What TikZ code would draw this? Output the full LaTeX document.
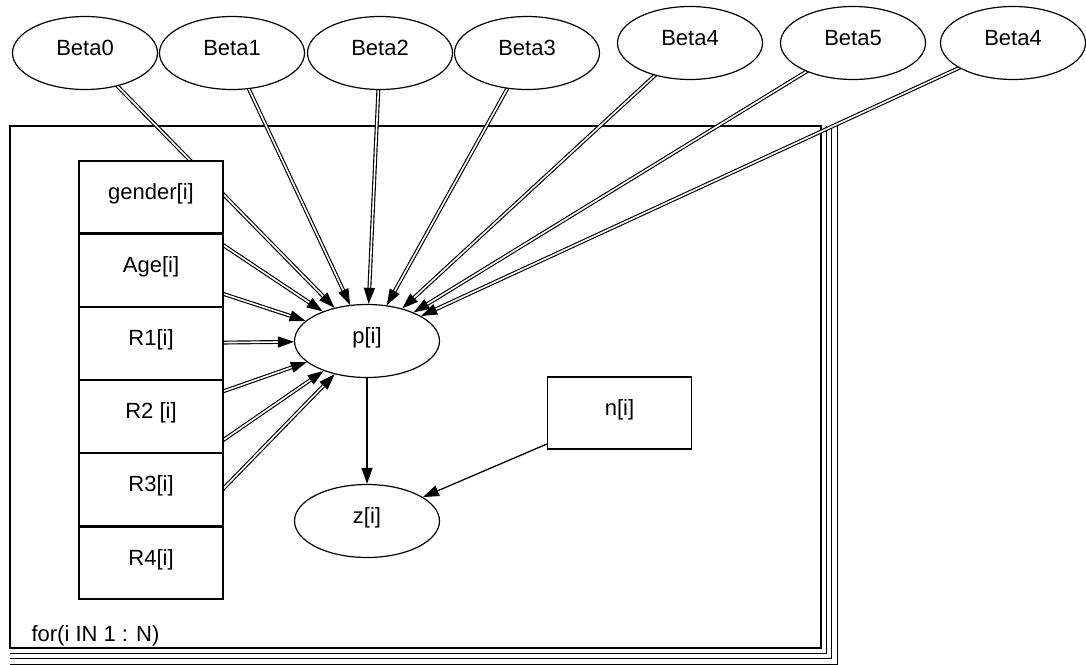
\documentclass[tikz,border=0pt]{standalone}
\usepackage{fontspec}
\setmainfont{Liberation Sans}
\usetikzlibrary{positioning,arrows.meta,shapes.geometric,backgrounds}

\begin{document}
\begin{tikzpicture}[x=1pt, y=-1pt,
  font=\fontsize{22}{26}\selectfont, >={Triangle[length=16pt,width=11pt]},
  var/.style={draw, line width=1.2pt, ellipse, fill=white, minimum width=145pt,
              minimum height=73pt, inner sep=0pt, text height=16pt, text depth=12pt},
  obs/.style={draw, line width=1.2pt, rectangle, fill=white, minimum width=144pt,
              minimum height=72pt, inner sep=0pt, text height=16pt, text depth=12pt},
  dep/.style={->, double, line width=1.15pt, double distance=1.6pt},
  link/.style={->, line width=1.3pt},
  plate/.style={line width=1.3pt}]

\useasboundingbox (0,0) rectangle (1086,664);

% coefficients
\node (b0) [var] at (85,53)   {Beta0};
\node (b1) [var] at (232,53)  {Beta1};
\node (b2) [var] at (380,53)  {Beta2};
\node (b3) [var] at (527,53)  {Beta3};
\node (b4) [var] at (690,43)  {Beta4};
\node (b5) [var] at (853,43)  {Beta5};
\node (b6) [var] at (1013,43) {Beta4};

% covariates
\node (gender) [obs] at (151,197) {gender[i]};
\node (age) [obs, below=0pt of gender] {Age[i]};
\node (r1)  [obs, below=0pt of age] {R1[i]};
\node (r2)  [obs, below=0pt of r1]  {R2 [i]};
\node (r3)  [obs, below=0pt of r2]  {R3[i]};
\node (r4)  [obs, below=0pt of r3]  {R4[i]};

\node (p) [var] at (367,341) {p[i]};
\node (z) [var] at (367,521) {z[i]};
\node (n) [obs] at (619.5,413) {n[i]};
\node (loop) [anchor=base west] at (28,641) {for(i IN 1 : N)};

\begin{scope}[on background layer]
  \draw[line width=2.2pt] (10,126) rectangle (821,648);
  \foreach \d in {5.4,10.8,16.2}
    \draw[plate] (10,648+\d) -| (821+\d,126);
  \foreach \v in {b0,b1,b2,b3,b4,b5,b6,gender,age,r1,r2,r3,r4}
    \draw[dep] (\v.center) -- (p);
\end{scope}

\draw[link] (p) -- (z);
\draw[link] (n) -- (z);
\end{tikzpicture}
\end{document}
